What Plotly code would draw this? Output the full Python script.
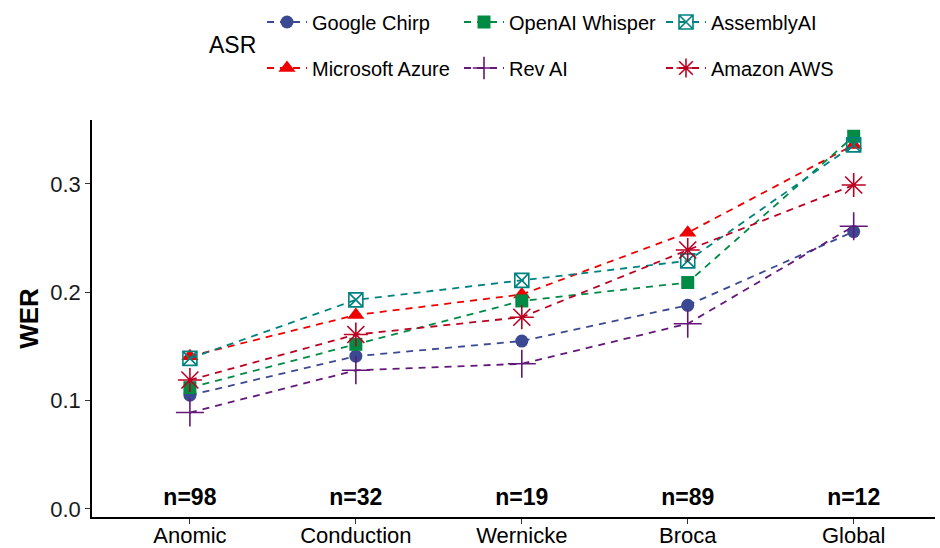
import plotly.graph_objects as go

categories = ["Anomic", "Conduction", "Wernicke", "Broca", "Global"]
n_labels = ["n=98", "n=32", "n=19", "n=89", "n=12"]

google_chirp = [0.105, 0.141, 0.155, 0.188, 0.256]
microsoft_azure = [0.141, 0.179, 0.198, 0.255, 0.336]
openai_whisper = [0.112, 0.152, 0.192, 0.209, 0.344]
rev_ai = [0.089, 0.128, 0.134, 0.171, 0.261]
assembly_ai = [0.139, 0.193, 0.211, 0.229, 0.336]
amazon_aws = [0.119, 0.161, 0.177, 0.239, 0.299]

FONT = "Liberation Sans, Arial, sans-serif"

series = [
    # name, values, color, symbol, size, open, legend
    ("Google Chirp", google_chirp, "#3B4992", "circle", 13, False, "legend"),
    ("Microsoft Azure", microsoft_azure, "#EE0000", "triangle-up", 15, False, "legend4"),
    ("OpenAI Whisper", openai_whisper, "#008B45", "square", 13, False, "legend2"),
    ("Rev AI", rev_ai, "#631879", "cross-thin-open", 20, True, "legend5"),
    ("AssemblyAI", assembly_ai, "#008280", "square-x-open", 14, True, "legend3"),
    ("Amazon AWS", amazon_aws, "#BB0021", "asterisk-open", 20, True, "legend6"),
]

fig = go.Figure()
for name, vals, color, sym, size, is_open, leg in series:
    fig.add_trace(go.Scatter(
        x=categories, y=vals, name=name, mode="lines+markers",
        line=dict(color=color, width=1.8, dash="7px,6px"),
        marker=dict(symbol=sym, size=size, color=color,
                    line=dict(color=color, width=1.6 if is_open else 0)),
        legend=leg, showlegend=True,
    ))

fig.add_trace(go.Scatter(
    x=categories, y=[0.009] * len(categories), text=n_labels, mode="text",
    textfont=dict(family=FONT, size=23, color="black", weight="bold"),
    showlegend=False, hoverinfo="skip",
))

W, H = 940, 548
ML, MR, MT, MB = 92, 5, 120, 31
pw, ph = W - ML - MR, H - MT - MB


def px_x(px):
    return (px - ML) / pw


def px_y(py):
    return (H - MB - py) / ph


legend_common = dict(orientation="v", bgcolor="rgba(0,0,0,0)", borderwidth=0,
                     font=dict(family=FONT, size=20, color="black"),
                     xanchor="left", yanchor="middle", itemwidth=40)
positions = {
    "legend": (287, 22), "legend2": (484, 22), "legend3": (686, 22),
    "legend4": (287, 68), "legend5": (484, 68), "legend6": (686, 68),
}
layout_legends = {}
for key, (mx, my) in positions.items():
    layout_legends[key] = dict(legend_common, x=px_x(mx - 25), y=px_y(my))

fig.update_layout(
    width=W, height=H,
    margin=dict(l=ML, r=MR, t=MT, b=MB, autoexpand=False),
    plot_bgcolor="white", paper_bgcolor="white",
    font=dict(family=FONT, color="black"),
    showlegend=True,
    **layout_legends,
    xaxis=dict(
        type="category", categoryorder="array", categoryarray=categories,
        range=[-0.59, 4.49], showgrid=False, zeroline=False,
        showline=True, linecolor="black", linewidth=1.5,
        ticks="outside", ticklen=5, tickwidth=1.2, tickcolor="#333333",
        tickfont=dict(family=FONT, size=22, color="black"),
        ticklabelstandoff=-7,
        automargin=False,
    ),
    yaxis=dict(
        range=[-0.0074, 0.359], tickvals=[0, 0.1, 0.2, 0.3], tickformat=".1f",
        showgrid=False, zeroline=False,
        showline=True, linecolor="black", linewidth=1.5,
        ticks="outside", ticklen=5, tickwidth=1.2, tickcolor="#333333",
        tickfont=dict(family=FONT, size=22, color="#1a1a1a"),
        title=dict(text="<b>WER</b>", font=dict(family=FONT, size=26, color="black"), standoff=4),
        automargin=False,
    ),
    annotations=[dict(
        text="ASR", xref="paper", yref="paper", x=px_x(232), y=px_y(45),
        xanchor="center", yanchor="middle", showarrow=False,
        font=dict(family=FONT, size=23, color="black"),
    )],
)

fig.write_html(
    "out.html",
    config={"displayModeBar": False},
    post_script="document.body.style.margin='0';document.body.style.overflow='hidden';",
)
